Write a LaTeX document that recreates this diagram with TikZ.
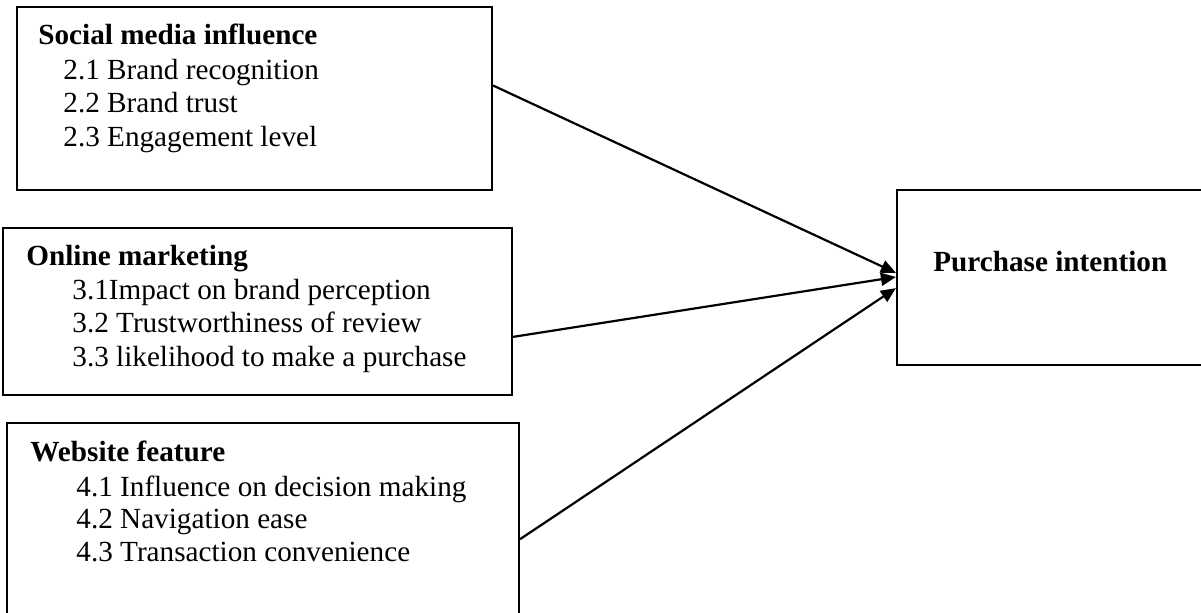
\documentclass[tikz,border=0pt]{standalone}
\usepackage{fontspec}
\setmainfont{Liberation Serif}
\usetikzlibrary{arrows.meta,calc}
\tikzset{
  box/.style={draw, line width=1.1pt, rectangle, inner sep=0pt},
  txt/.style={inner sep=0pt, anchor=base west, font=\fontsize{14.6}{16.5}\selectfont},
  ttl/.style={txt, font=\fontsize{14.6}{16.5}\selectfont\bfseries},
  conn/.style={line width=1.1pt, -{Triangle[length=7.5pt,width=6.5pt]}}
}
\begin{document}
\begin{tikzpicture}[x=0.5pt,y=-0.5pt]
\useasboundingbox (0,0) rectangle (1201,613);
\clip (0,0) rectangle (1201,613);
% boxes
\node[box, minimum width=237.5pt, minimum height=91.5pt] (smi) at (254.5,98.5) {};
\node[box, minimum width=254.5pt, minimum height=83.5pt] (om) at (257.5,311.5) {};
\node[box, minimum width=256pt, minimum height=108.5pt] (wf) at (263,531.5) {};
\node[box, minimum width=161.5pt, minimum height=87.5pt] (pi) at (1058.5,277.5) {};
% texts
\node[ttl] (smi0) at (38,45) {Social media influence};
\node[txt] (smi1) at (63,80) {2.1 Brand recognition};
\node[txt] (smi2) at (63,113) {2.2 Brand trust};
\node[txt] (smi3) at (63,147) {2.3 Engagement level};
\node[ttl] (om0) at (26,266) {Online marketing};
\node[txt] (om1) at (72,300) {3.1Impact on brand perception};
\node[txt] (om2) at (72,333) {3.2 Trustworthiness of review};
\node[txt] (om3) at (72,367) {3.3 likelihood to make a purchase};
\node[ttl] (wf0) at (30,462) {Website feature};
\node[txt] (wf1) at (76,497) {4.1 Influence on decision making};
\node[txt] (wf2) at (76,529) {4.2 Navigation ease};
\node[txt] (wf3) at (76,562) {4.3 Transaction convenience};
\node[ttl] (pi0) at (933,272) {Purchase intention};
% connectors
\draw[conn] ($(smi.north east)!0.43!(smi.south east)$) -- ($(pi.north west)!0.474!(pi.south west)$);
\draw[conn] ($(om.north east)!0.65!(om.south east)$) -- ($(pi.north west)!0.497!(pi.south west)$);
\draw[conn] ($(wf.north east)!0.535!(wf.south east)$) -- ($(pi.north west)!0.56!(pi.south west)$);
\end{tikzpicture}
\end{document}
